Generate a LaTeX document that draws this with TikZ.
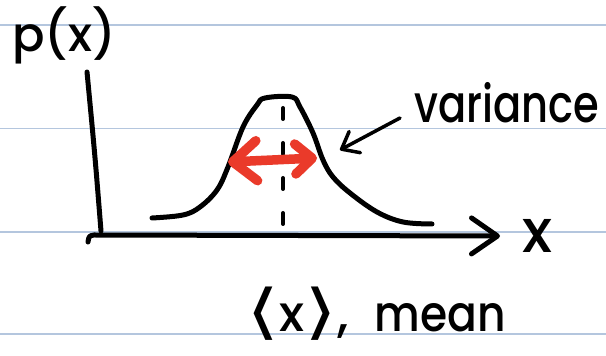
\documentclass[tikz,border=0pt]{standalone}
\usepackage{fontspec}
\setmainfont{Poppins}[UprightFont={* Medium}]
\newfontfamily\bracketfont{DejaVu Sans}
\usepackage{graphicx}
\definecolor{ruling}{HTML}{B4C6DE}
\definecolor{spread}{HTML}{EA3A2A}
\usetikzlibrary{arrows.meta, calc, positioning}

\tikzset{
    hand/.style={line width=5pt, line cap=round, line join=round},
    handtext/.style={inner sep=0pt, font=\fontsize{#1}{#1}\selectfont},
    handtext/.default=50
}
\newcommand{\lbrak}{\raisebox{-1pt}{\scalebox{1.7}[1.2]{\bracketfont ⟨}}}
\newcommand{\rbrak}{\raisebox{-1pt}{\scalebox{1.7}[1.2]{\bracketfont ⟩}}}

\begin{document}
\begin{tikzpicture}[x=1pt, y=1pt]
    \useasboundingbox (0,0) rectangle (606,356);
    \fill[white] (0,0) rectangle (606,356);

    % notebook rules
    \foreach \y in {22,124,227.5,331}
        \draw[ruling, line width=1.4pt] (0,\y) -- (606,\y);

    % axes
    \coordinate (origin) at (94,121);
    \coordinate (ytop) at (87,284);
    \coordinate (xend) at (500,120);
    \draw[hand] (ytop) .. controls (95,200) .. (101,125);
    \draw[hand, -{Straight Barb[length=26pt, width=36pt, round]}] (88,114) .. controls (89,120) .. (origin) -- (xend);

    % labels
    \node[handtext=48, anchor=base west] (px) at (12,304) {p(x)};
    \node[handtext=60, right=22pt of xend] (xlabel) {x};
    \node[handtext=52, anchor=base west] (variance) at (414,233) {\scalebox{0.8}[1]{variance}};
    \node[handtext=50, anchor=base west] (mean) at (246,24)
        {\lbrak x\rbrak,\hspace{26pt}\scalebox{0.88}[1]{mean}};

    % distribution
    \draw[hand] plot[smooth, tension=0.6] coordinates {
        (152,138) (183,141) (200,149) (217,166) (228,189) (243,229) (257,251)
        (265,258) (292,259) (300,249) (313,223) (323,196) (333,179) (350,163)
        (377,144) (403,134) (432,132)};

    % mean marker
    \coordinate (meantop) at (283,248);
    \coordinate (meanbot) at (283,128);
    \draw[hand, line width=4pt, dash pattern=on 11pt off 24pt] (meantop) -- (meanbot);

    % spread arrow
    \coordinate (spreadl) at (228,194);
    \coordinate (spreadr) at (317,198);
    \draw[spread, line width=9.5pt, line cap=round,
        {Straight Barb[length=24pt, width=40pt, round]}-{Straight Barb[length=17pt, width=30pt, round]}]
        (spreadl) -- (spreadr);

    % pointer to the flank
    \coordinate (flank) at (340,206);
    \draw[line width=3.5pt, line cap=round, -{Straight Barb[length=15pt, width=24pt, round]}]
        ($(variance.base west)+(-14,5)$) -- (flank);
\end{tikzpicture}
\end{document}
